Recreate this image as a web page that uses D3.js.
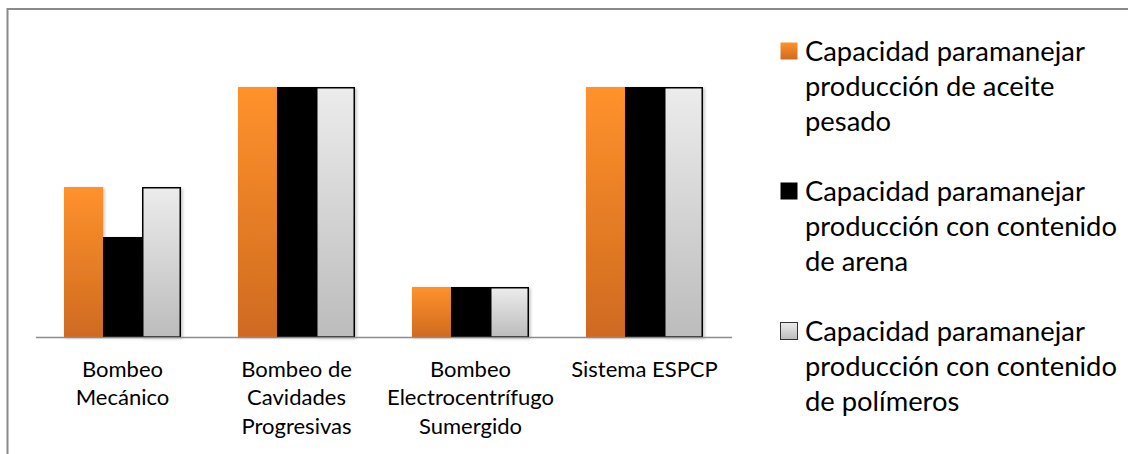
<!DOCTYPE html>
<html>
<head>
<meta charset="utf-8">
<script src="https://cdn.jsdelivr.net/npm/d3@7"></script>
<style>
  html, body { margin: 0; padding: 0; background: #fff; }
  svg { display: block; }
</style>
</head>
<body>
<svg id="chart" width="1128" height="454"></svg>
<script>
// ---- data ----
const categories = ["Bombeo Mecánico", "Bombeo de Cavidades Progresivas", "Bombeo Electrocentrífugo Sumergido", "Sistema ESPCP"];
const categoryLines = [["Bombeo", "Mecánico"], ["Bombeo de", "Cavidades", "Progresivas"], ["Bombeo", "Electrocentrífugo", "Sumergido"], ["Sistema ESPCP"]];
const seriesKeys = ["aceite", "arena", "polimeros"];
const seriesLegend = [
  ["Capacidad paramanejar", "producción de aceite", "pesado"],
  ["Capacidad paramanejar", "producción con contenido", "de arena"],
  ["Capacidad paramanejar", "producción con contenido", "de polímeros"]
];
const aceitePesado = [3, 5, 1, 5];
const contenidoArena = [2, 5, 1, 5];
const contenidoPolimeros = [3, 5, 1, 5];
const seriesValues = [aceitePesado, contenidoArena, contenidoPolimeros];

// ---- setup ----
const svg = d3.select("#chart");
const FONT = "Lato, 'Open Sans', sans-serif";
const defs = svg.append("defs");

function vgrad(id, top, bottom) {
  const g = defs.append("linearGradient").attr("id", id)
    .attr("x1", 0).attr("y1", 0).attr("x2", 0).attr("y2", 1);
  g.append("stop").attr("offset", "0%").attr("stop-color", top);
  g.append("stop").attr("offset", "100%").attr("stop-color", bottom);
}
vgrad("gOrange", "#ff922c", "#cf6a20");
vgrad("gGray", "#ececec", "#bcbcbc");
const f = defs.append("filter").attr("id", "shadow")
  .attr("x", "-20%").attr("y", "-5%").attr("width", "140%").attr("height", "115%");
f.append("feDropShadow").attr("dx", 1.5).attr("dy", 1).attr("stdDeviation", 1.5)
  .attr("flood-color", "#000").attr("flood-opacity", 0.25);

const fills = ["url(#gOrange)", "#000000", "url(#gGray)"];
const strokes = ["none", "none", "#000000"];

// outer border (chart area frame)
svg.append("rect").attr("x", 7.5).attr("y", 9).attr("width", 1200).attr("height", 600)
  .attr("fill", "none").attr("stroke", "#8a8a8a").attr("stroke-width", 2);

// fit font size by measuring text width
function fitSize(text, targetW) {
  const t = svg.append("text").attr("font-family", FONT).attr("font-size", 20).text(text);
  const w = t.node().getComputedTextLength();
  t.remove();
  return 20 * targetW / w;
}
const axisFont = fitSize("Electrocentrífugo", 167);
const legendFont = fitSize("Capacidad paramanejar", 280);

// ---- scales ----
const x0 = d3.scaleBand().domain(categories).range([35.5, 731.5])
  .paddingInner(0.3276).paddingOuter(0.1638);
const x1 = d3.scaleBand().domain(seriesKeys).range([0, x0.bandwidth()]).padding(0);
const y = d3.scaleLinear().domain([0, 5]).range([337, 87]);

// ---- bars ----
const groups = svg.append("g").selectAll("g").data(categories).join("g")
  .attr("transform", d => `translate(${x0(d)},0)`);
groups.selectAll("rect")
  .data((c, ci) => seriesKeys.map((k, si) => ({ k, si, v: seriesValues[si][ci] })))
  .join("rect")
  .attr("x", d => x1(d.k) + (d.si === 2 ? 0.75 : 0))
  .attr("y", d => y(d.v) + (d.si === 2 ? 0.75 : 0))
  .attr("width", d => x1.bandwidth() - (d.si === 2 ? 1.5 : 0))
  .attr("height", d => y(0) - y(d.v) - (d.si === 2 ? 0.75 : 0))
  .attr("fill", d => fills[d.si])
  .attr("stroke", d => strokes[d.si])
  .attr("stroke-width", 1.5)
  .attr("filter", "url(#shadow)");

// ---- axis ----
const axis = svg.append("g").attr("transform", `translate(0,${y(0)})`)
  .call(d3.axisBottom(x0).tickSize(0).tickSizeOuter(0));
axis.select(".domain").attr("stroke", "#8c8c8c").attr("stroke-width", 1.5);
axis.selectAll(".tick text").each(function (d, i) {
  const t = d3.select(this);
  t.text(null).attr("y", 0).attr("dy", null)
    .attr("font-family", FONT).attr("font-size", axisFont).attr("fill", "#000");
  categoryLines[i].forEach((ln, j) => {
    t.append("tspan").attr("x", 0).attr("y", 39.5 + j * 28.5).text(ln);
  });
});

// ---- legend ----
const legend = svg.append("g");
seriesLegend.forEach((lines, si) => {
  const gy = 60.5 + si * 140;
  legend.append("rect").attr("x", 780.5).attr("y", gy - 18).attr("width", 17).attr("height", 17)
    .attr("fill", fills[si])
    .attr("stroke", si === 2 ? "#333" : "none").attr("stroke-width", 1);
  const t = legend.append("text").attr("font-family", FONT).attr("font-size", legendFont).attr("fill", "#000");
  lines.forEach((ln, j) => {
    t.append("tspan").attr("x", 805).attr("y", gy + j * 35).text(ln);
  });
});
</script>
</body>
</html>
